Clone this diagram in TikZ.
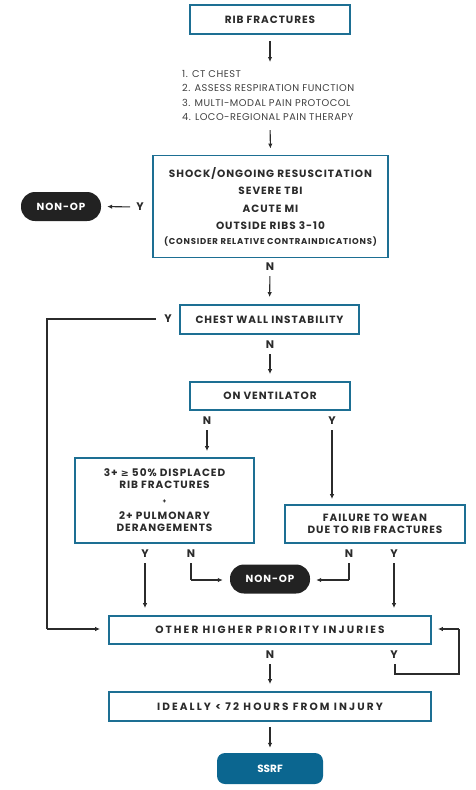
\documentclass[tikz,border=0pt]{standalone}
\usepackage{fontspec}
\setmainfont{Poppins}
\newfontfamily\dvfont{DejaVu Sans}
\usetikzlibrary{arrows.meta}
\definecolor{bord}{HTML}{1D6F93}
\definecolor{ssrfc}{HTML}{0B6690}
\definecolor{txt}{HTML}{2B2B2B}
\definecolor{pillc}{HTML}{222222}
\newcommand\bxfont[2]{\fontsize{#1}{#2}\selectfont\bfseries\addfontfeatures{LetterSpace=9}}
\begin{document}
\begin{tikzpicture}[x=1pt,y=-1pt,
  box/.style={draw=bord,line width=1.8pt,align=center,inner sep=0pt,text=txt,
    font=\bxfont{10.5}{12.5}},
  pill/.style={fill=pillc,rounded corners=14pt,text=white,inner sep=0pt,
    minimum width=80pt,minimum height=29pt,font=\bxfont{10.3}{11}},
  yn/.style={text=txt,inner sep=0pt,font=\fontsize{11}{11}\selectfont\bfseries},
  arr/.style={draw=txt,line width=1.1pt,-{Latex[length=5pt,width=4.5pt]}},
  ln/.style={draw=txt,line width=1.1pt}]
\useasboundingbox (0,0) rectangle (475,790);

\node[box,minimum width=160pt,minimum height=29pt] (rib) at (270,19.5) {RIB FRACTURES};
\node[inner sep=0pt,anchor=north west,align=left,text=txt!90,
  font=\fontsize{9.8}{14.5}\selectfont\addfontfeatures{LetterSpace=5}] (list) at (182,70)
  {1. CT CHEST\\2. ASSESS RESPIRATION FUNCTION\\3. MULTI-MODAL PAIN PROTOCOL\\4. LOCO-REGIONAL PAIN THERAPY};
\node[box,minimum width=235pt,minimum height=102pt,font=\bxfont{10.5}{17.5}] (shock) at (270.5,206.5)
  {SHOCK/ONGOING RESUSCITATION\\SEVERE TBI\\ACUTE MI\\OUTSIDE RIBS 3-10\\[-3pt]{\bxfont{8.5}{9}(CONSIDER RELATIVE CONTRAINDICATIONS)}};
\node[pill] (nonopA) at (61,206.5) {NON-OP};
\node[yn] (yA) at (140,207) {Y};
\node[yn] (nA) at (270,267) {N};
\node[box,minimum width=179pt,minimum height=29pt] (cwi) at (269.5,319.5) {CHEST WALL INSTABILITY};
\node[yn] (yB) at (168,319) {Y};
\node[yn] (nB) at (270,345) {N};
\node[box,minimum width=160pt,minimum height=28pt] (vent) at (270,396) {ON VENTILATOR};
\node[yn] (nC) at (207,421) {N};
\node[yn] (yC) at (332,421) {Y};
\node[box,minimum width=179pt,minimum height=85pt,font=\bxfont{10.5}{12}] (disp) at (164.5,500.5)
  {3+ {\dvfont\bfseries\fontsize{9.5}{12}\selectfont ≥} 50\% DISPLACED\\RIB FRACTURES\\[3pt]{\fontsize{6}{6}\selectfont +}\\[4pt]2+ PULMONARY\\DERANGEMENTS};
\node[box,minimum width=180pt,minimum height=38pt,font=\bxfont{10.5}{12}] (wean) at (375,524)
  {FAILURE TO WEAN\\DUE TO RIB FRACTURES};
\node[yn] (yD) at (145,554) {Y};
\node[yn] (nD) at (191,554) {N};
\node[yn] (nE) at (349,554) {N};
\node[yn] (yE) at (394,554) {Y};
\node[pill] (nonopB) at (270,579) {NON-OP};
\node[box,minimum width=322pt,minimum height=28pt] (other) at (270,630)
  {\addfontfeatures{LetterSpace=20}OTHER HIGHER PRIORITY INJURIES};
\node[yn] (nF) at (270,655) {N};
\node[yn] (yF) at (394,655) {Y};
\node[box,minimum width=322pt,minimum height=29pt] (ideal) at (270,706.5)
  {\addfontfeatures{LetterSpace=20}IDEALLY < 72 HOURS FROM INJURY};
\node[fill=ssrfc,rounded corners=8pt,text=white,inner sep=0pt,minimum width=106pt,minimum height=31pt,
  font=\fontsize{10.5}{10}\selectfont\bfseries] (ssrf) at (270,768.5) {SSRF};

\coordinate (cL) at (47,319);
\coordinate (cL2) at (47,629);
\coordinate (cN1) at (191,580);
\coordinate (cN2) at (349,580);
\coordinate (cY1) at (395,674);
\coordinate (cY2) at (459,674);
\coordinate (cY3) at (459,629);

\draw[arr,shorten <=6pt,shorten >=8pt] (rib.south) -- (rib.south |- list.north);
\draw[arr,shorten <=9pt,shorten >=6pt] (rib.south |- list.south) -- (shock.north);
\draw[arr,shorten <=6pt,shorten >=6pt] (yA.west) -- (nonopA.east);
\draw[arr,shorten <=5pt,shorten >=7pt] (nA.south) -- (cwi.north);
\draw[ln,shorten <=8pt] (yB.west) -- (cL) -- (cL2);
\draw[arr,shorten >=8pt] (cL2) -- (other.west |- cL2);
\draw[arr,shorten <=5pt,shorten >=7pt] (nB.south) -- (vent.north);
\draw[arr,shorten <=5pt,shorten >=6pt] (nC.south) -- (nC.south |- disp.north);
\draw[arr,shorten <=5pt,shorten >=5pt] (yC.south) -- (yC.south |- wean.north);
\draw[arr,shorten <=5pt,shorten >=7pt] (yD.south) -- (yD.south |- other.north);
\draw[arr,shorten <=5pt,shorten >=7pt] (yE.south) -- (yE.south |- other.north);
\draw[ln,shorten <=5pt] (nD.south) -- (cN1);
\draw[arr,shorten >=7pt] (cN1) -- (nonopB.west |- cN1);
\draw[ln,shorten <=5pt] (nE.south) -- (cN2);
\draw[arr,shorten >=6pt] (cN2) -- (nonopB.east |- cN2);
\draw[arr,shorten <=5pt,shorten >=7pt] (nF.south) -- (ideal.north);
\draw[ln,shorten <=5pt] (yF.south -| cY1) -- (cY1) -- (cY2) -- (cY3);
\draw[arr,shorten >=6pt] (cY3) -- (other.east |- cY3);
\draw[arr,shorten <=5pt,shorten >=5pt] (ideal.south) -- (ssrf.north);
\end{tikzpicture}
\end{document}
